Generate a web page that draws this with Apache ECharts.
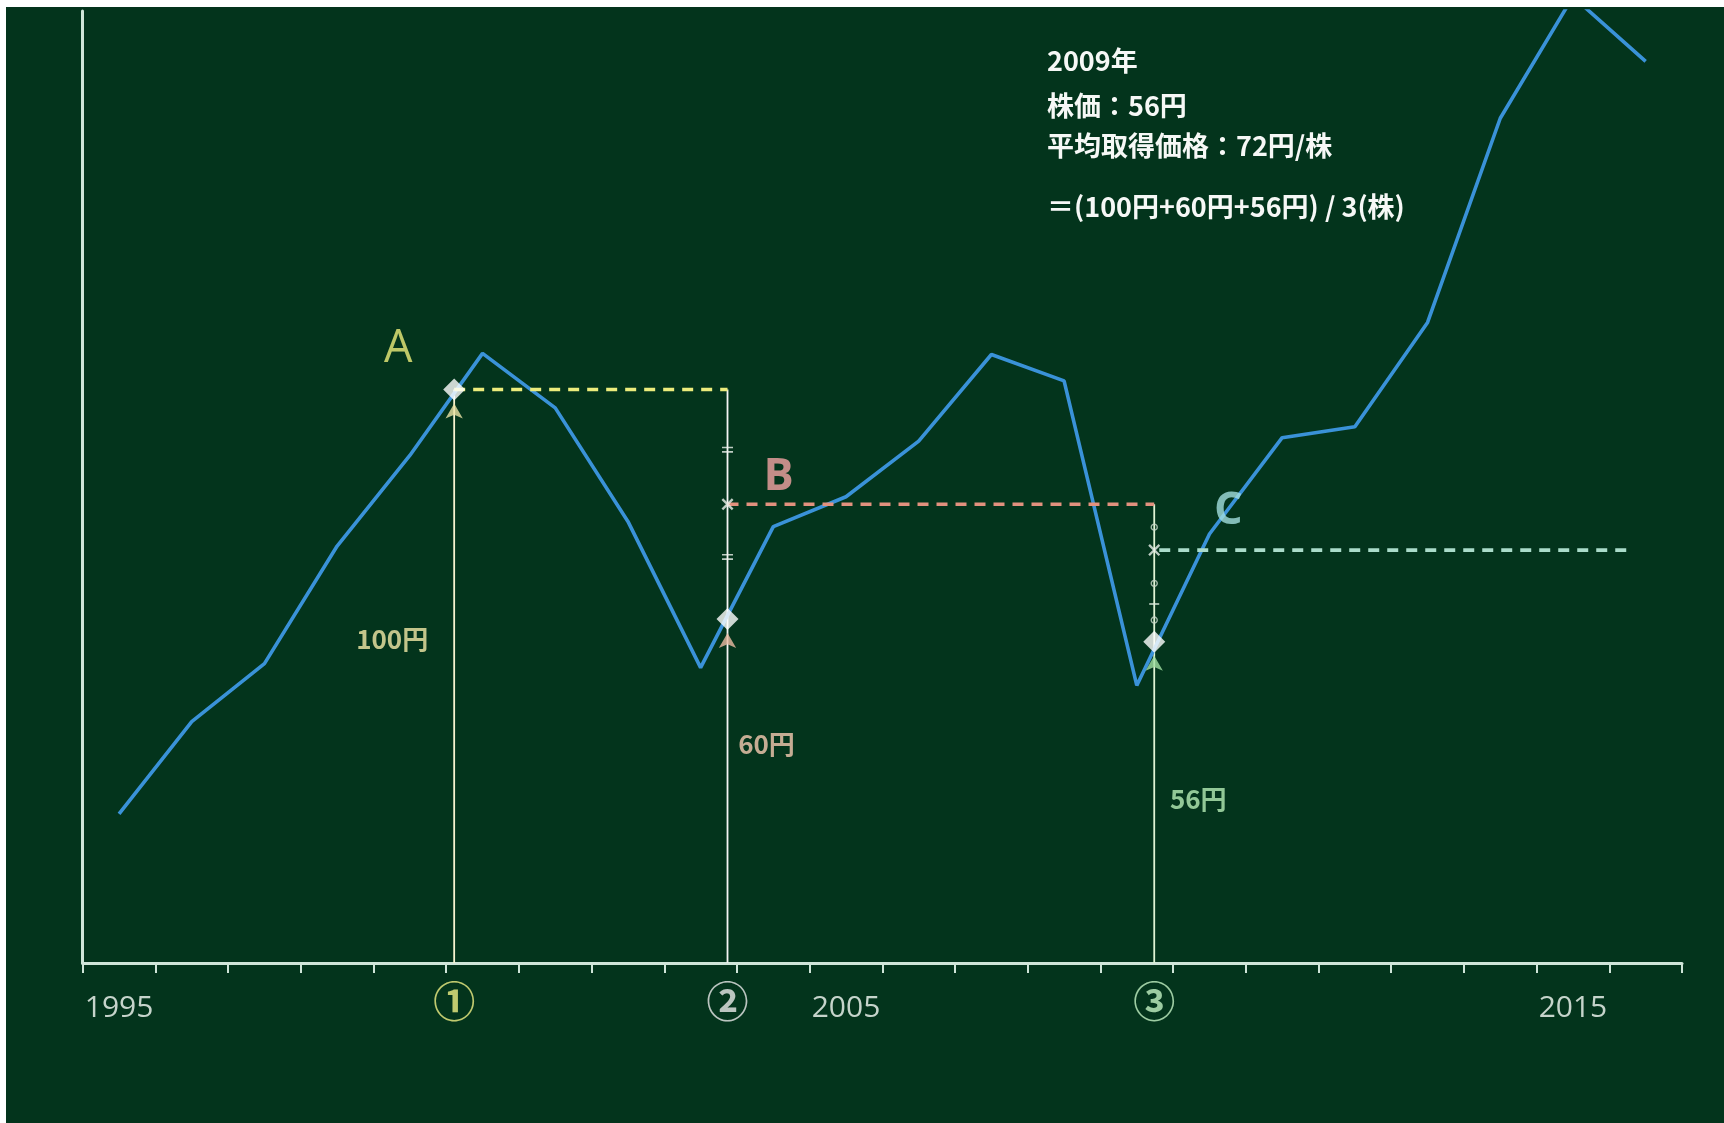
<!DOCTYPE html>
<html>
<head>
<meta charset="utf-8">
<script src="https://cdn.jsdelivr.net/npm/echarts@6/dist/echarts.min.js"></script>
<style>
  html, body { margin: 0; padding: 0; background: #ffffff; width: 1724px; height: 1123px; overflow: hidden; }
  #chart { position: absolute; left: 6px; top: 7px; width: 1718px; height: 1116px; }
</style>
</head>
<body>
<div id="chart"></div>
<script>
// ---- data ----
const years = ['1995','1996','1997','1998','1999','2000','2001','2002','2003','2004','2005',
               '2006','2007','2008','2009','2010','2011','2012','2013','2014','2015','2016'];
const prices = [26.0, 42.1, 52.2, 72.7, 88.5, 106.3, 96.8, 77.0, 51.5, 76.1, 81.3,
                91.0, 106.1, 101.5, 48.4, 74.8, 91.6, 93.5, 111.7, 147.3, 168.5, 157.2];
const buyPos = [4.61, 8.37, 14.24];          // purchase timings (category index units)
const buyPrices = [100, 60, 56];             // purchase prices
const avgPrices = [100, 80, 72];             // average acquisition price after each purchase
const avgLineEnd = 20.83;
const buyMarks = ['①', '②', '③'];
const pointNames = ['A', 'B', 'C'];
const priceTexts = ['100円', '60円', '56円'];
const infoLines = ['2009年', '株価：56円', '平均取得価格：72円/株', '＝(100円+60円+56円) / 3(株)'];
const eqMarks = [89.5, 70.8];                // '=' marks on line ②
const ringMarks = [76.0, 66.2, 59.8];        // 'o' marks on line ③
const dashMarks = [62.6];                    // '-' mark on line ③

// ---- styles ----
const bg = '#03341c';
const axisColor = '#cfe5d8';
const vertColors = ['#f8f4d0', '#f4f4f4', '#e0f4d4'];
const arrowColors = ['#ece4a6', '#ecbca4', '#a2e0a2'];
const avgColors = ['#ecec7c', '#e2917e', '#aadcca'];
const nameColors = ['#eeee7a', '#f4a4a4', '#a2dede'];
const priceColors = ['#f4eaa8', '#f6cab2', '#b6eeb6'];
const markColors = ['#f0f084', '#eaeaea', '#c4f2c4'];
const nameOffsets = [[-56, -40], [51, -27], [74, -39]];
const priceOffsets = [[-62, -324], [39, -219], [44, -164]];
const cjk = '"Noto Sans CJK JP", "Noto Sans", sans-serif';

const series = [];
series.push({
  type: 'line', xAxisIndex: 0, yAxisIndex: 0, data: prices, symbol: 'none', clip: true,
  lineStyle: { color: '#3a92d8', width: 3.6 }, z: 3, silent: true
});
// vertical purchase lines
buyPos.forEach((x, i) => {
  const top = i === 0 ? buyPrices[0] : avgPrices[i - 1];
  series.push({
    type: 'line', xAxisIndex: 1, yAxisIndex: 0, symbol: 'none', z: 2, silent: true,
    data: [[x, 0], [x, top]], lineStyle: { color: vertColors[i], width: 1.8 }
  });
});
// average price dashed lines
buyPos.forEach((x, i) => {
  const end = i < buyPos.length - 1 ? buyPos[i + 1] : avgLineEnd;
  series.push({
    type: 'line', xAxisIndex: 1, yAxisIndex: 0, symbol: 'none', z: 4, silent: true,
    data: [[x, avgPrices[i]], [end, avgPrices[i]]],
    lineStyle: { color: avgColors[i], width: 3.6, type: [11, 8], dashOffset: i === 2 ? 14 : 0 }
  });
});
// small marks on the vertical lines
series.push({
  type: 'scatter', xAxisIndex: 1, yAxisIndex: 0, z: 5, silent: true,
  symbol: 'path://M0,0H10V1.6H0Z M0,4.4H10V6H0Z', symbolSize: [11, 6],
  itemStyle: { color: '#eef2ee' },
  data: eqMarks.map(v => [buyPos[1], v])
});
series.push({
  type: 'scatter', xAxisIndex: 1, yAxisIndex: 0, z: 5, silent: true,
  symbol: 'path://M0,1.4L1.4,0L10,8.6L8.6,10Z M8.6,0L10,1.4L1.4,10L0,8.6Z', symbolSize: 12,
  itemStyle: { color: '#eef2ee' },
  data: [[buyPos[1], avgPrices[1]], [buyPos[2], avgPrices[2]]]
});
series.push({
  type: 'scatter', xAxisIndex: 1, yAxisIndex: 0, z: 5, silent: true,
  symbol: 'circle', symbolSize: 6,
  itemStyle: { color: 'rgba(0,0,0,0)', borderColor: '#cadacc', borderWidth: 1.4 },
  data: ringMarks.map(v => [buyPos[2], v])
});
series.push({
  type: 'scatter', xAxisIndex: 1, yAxisIndex: 0, z: 5, silent: true,
  symbol: 'path://M0,0H10V1.6H0Z', symbolSize: [10, 1.8],
  itemStyle: { color: '#dceadc' },
  data: dashMarks.map(v => [buyPos[2], v])
});
// arrows
series.push({
  type: 'scatter', xAxisIndex: 1, yAxisIndex: 0, z: 6, silent: true,
  symbol: 'arrow', symbolSize: [13, 15], symbolOffset: [0, 14],
  data: buyPos.map((x, i) => ({ value: [x, buyPrices[i]], itemStyle: { color: arrowColors[i] } }))
});
// diamonds
series.push({
  type: 'scatter', xAxisIndex: 1, yAxisIndex: 0, z: 7, silent: true,
  symbol: 'diamond', symbolSize: 22, itemStyle: { color: '#ffffff' },
  data: buyPos.map((x, i) => [x, buyPrices[i]])
});
// A / B / C names
series.push({
  type: 'scatter', xAxisIndex: 1, yAxisIndex: 0, z: 8, silent: true, symbolSize: 0, clip: false,
  data: buyPos.map((x, i) => ({
    value: [x, avgPrices[i]],
    label: {
      show: true, position: 'inside', offset: nameOffsets[i], formatter: pointNames[i],
      color: nameColors[i], fontSize: 45, fontFamily: '"Open Sans", "Noto Sans", sans-serif',
      fontWeight: i === 0 ? 'normal' : 'bold'
    }
  }))
});
// price labels
series.push({
  type: 'scatter', xAxisIndex: 1, yAxisIndex: 0, z: 8, silent: true, symbolSize: 0, clip: false,
  data: buyPos.map((x, i) => ({
    value: [x, 0],
    label: {
      show: true, position: 'inside', offset: priceOffsets[i], formatter: priceTexts[i],
      color: priceColors[i], fontSize: 26, fontFamily: cjk, fontWeight: 'bold'
    }
  }))
});
// circled numbers under the axis
series.push({
  type: 'scatter', xAxisIndex: 1, yAxisIndex: 0, z: 8, silent: true, symbolSize: 0, clip: false,
  data: buyPos.map((x, i) => ({
    value: [x, 0],
    label: {
      show: true, position: 'inside', offset: [0, 38], formatter: buyMarks[i],
      color: markColors[i], fontSize: 42, fontFamily: cjk, fontWeight: 'bold'
    }
  }))
});

const infoY = [55, 100, 140, 201];
const option = {
  backgroundColor: bg,
  animation: false,
  grid: { left: 76.7, right: 42, top: 4, bottom: 160 },
  xAxis: [
    {
      type: 'category', data: years, boundaryGap: true,
      axisLine: { onZero: false, lineStyle: { color: axisColor, width: 3 } },
      axisTick: { show: true, interval: 0, length: 10, lineStyle: { color: axisColor, width: 2 } },
      axisLabel: { interval: 9, margin: 30, color: '#c6d4cb', fontSize: 30,
                   fontFamily: '"Open Sans", "Noto Sans", sans-serif' },
      splitLine: { show: false }
    },
    { type: 'value', min: -0.5, max: 21.5, show: false }
  ],
  yAxis: {
    type: 'value', min: 0, max: 166,
    axisLine: { show: true, onZero: false, lineStyle: { color: axisColor, width: 3 } },
    axisTick: { show: false }, axisLabel: { show: false }, splitLine: { show: false }
  },
  graphic: infoLines.map((t, i) => ({
    type: 'text', left: 1041, top: infoY[i] - 15,
    style: { text: t, fill: '#f6f8f6', font: 'bold 27px ' + cjk }
  })),
  series: series
};
const chart = echarts.init(document.getElementById('chart'), null, { renderer: 'canvas' });
chart.setOption(option);
</script>
</body>
</html>
